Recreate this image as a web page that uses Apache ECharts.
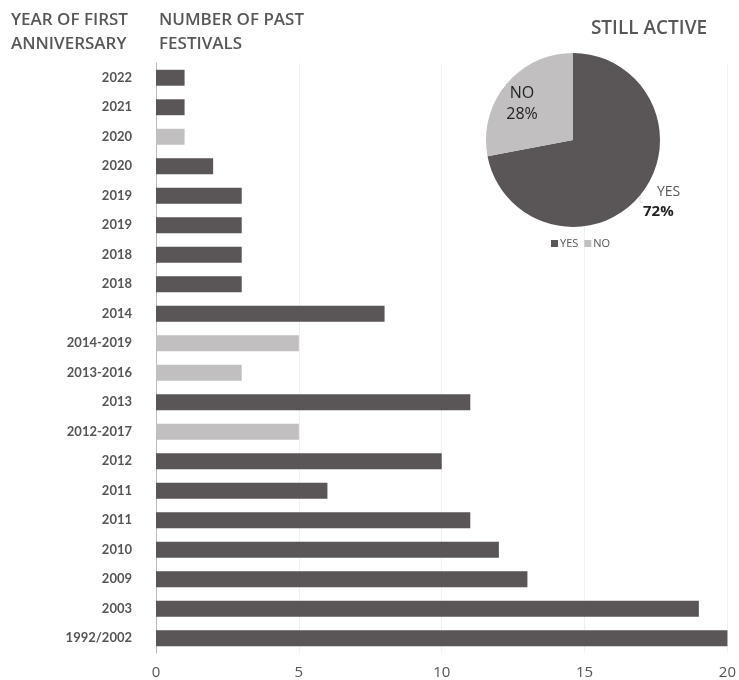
<!DOCTYPE html>
<html><head><meta charset="utf-8">
<script src="https://cdn.jsdelivr.net/npm/echarts@6/dist/echarts.min.js"></script>
<style>html,body{margin:0;padding:0;background:#fff}#c{width:739px;height:680px}</style>
</head><body><div id="c"></div>
<script>
const categories = ['2022','2021','2020','2020','2019','2019','2018','2018','2014','2014-2019','2013-2016','2013','2012-2017','2012','2011','2011','2010','2009','2003','1992/2002'];
const pastFestivals = [1,1,1,2,3,3,3,3,8,5,3,11,5,10,6,11,12,13,19,20];
const stillActive = [1,1,0,1,1,1,1,1,1,0,0,1,0,1,1,1,1,1,1,1];
const xTicks = [0,5,10,15,20];
const pieNames = ['YES','NO'];
const pieValues = [72,28];

const DARK = '#5a5556', LIGHT = '#c1bfc0';
const HEAD = {fontFamily: 'Open Sans', fontSize: 17, fontWeight: 600, color: '#585858', lineHeight: 24};
const chart = echarts.init(document.getElementById('c'));
chart.setOption({
  animation: false,
  title: [
    {text: 'YEAR OF FIRST\nANNIVERSARY', left: 11, top: 8, padding: 0, textStyle: HEAD},
    {text: 'NUMBER OF PAST\nFESTIVALS', left: 159, top: 8, padding: 0, textStyle: HEAD},
    {text: 'STILL ACTIVE', left: 649, top: 19, padding: 0, textAlign: 'center', textStyle: {fontFamily: 'Open Sans', fontSize: 19, fontWeight: 600, color: '#585858'}}
  ],
  grid: {left: 156, right: 10, top: 63, bottom: 27, containLabel: false},
  xAxis: {
    type: 'value', min: xTicks[0], max: xTicks[xTicks.length-1], interval: 5,
    axisLine: {show: false}, axisTick: {show: false},
    axisLabel: {fontFamily: 'Open Sans', fontSize: 15, color: '#555', margin: 12},
    splitLine: {show: true, lineStyle: {color: '#f0f0f0'}}
  },
  yAxis: {
    type: 'category', data: categories, inverse: true,
    axisLine: {show: true, lineStyle: {color: '#bbb', width: 1}}, axisTick: {show: false},
    axisLabel: {fontFamily: 'Lato', fontWeight: 'bold', fontSize: 13, color: '#555', margin: 24}
  },
  legend: {
    data: pieNames, left: 546, top: 233, itemWidth: 7, itemHeight: 7, itemGap: 6,
    icon: 'rect', textStyle: {fontFamily: 'Open Sans', fontSize: 11, color: '#555', padding: [0,0,0,-3]}
  },
  series: [
    {
      type: 'bar', barWidth: '54%',
      data: pastFestivals.map((v,i) => ({value: v, itemStyle: {color: stillActive[i] ? DARK : LIGHT}})),
      z: 2
    },
    {
      type: 'pie', center: [573, 140], radius: 87, startAngle: 90, clockwise: true,
      data: pieNames.map((n,i) => ({
        name: n, value: pieValues[i], itemStyle: {color: i === 0 ? DARK : LIGHT},
        label: i === 0
          ? {formatter: '{y|{b}}\n{p|{d}%}', align: 'left'}
          : {formatter: '{n|{b}}\n{n|{d}%}', align: 'center'}
      })),
      label: {
        fontFamily: 'Open Sans', fontSize: 15, color: '#222',
        rich: {
          y: {fontFamily: 'Open Sans', fontSize: 14, color: '#555', padding: [0,0,0,14], lineHeight: 19},
          p: {fontFamily: 'Open Sans', fontSize: 15, fontWeight: 'bold', color: '#222', lineHeight: 19},
          n: {fontFamily: 'Open Sans', fontSize: 16, color: '#222', lineHeight: 21}
        }
      },
      labelLine: {show: true, length: 6, length2: 6, lineStyle: {color: '#ddd'}},
      labelLayout: function (p) {
        if (p.dataIndex === 1) return {x: 522, y: 104, align: 'center', verticalAlign: 'middle'};
        return {x: 643, y: 202, align: 'left', verticalAlign: 'middle'};
      },
      emphasis: {disabled: true}, z: 3
    }
  ]
});
</script></body></html>
